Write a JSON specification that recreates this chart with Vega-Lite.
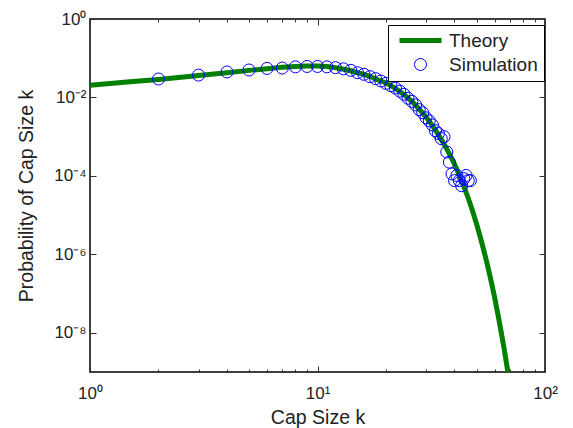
{
  "$schema": "https://vega.github.io/schema/vega-lite/v6.json",
  "width": 455,
  "height": 353,
  "autosize": "none",
  "padding": {"left": 90, "top": 19, "right": 28, "bottom": 56},
  "background": "white",
  "config": {
    "view": {"stroke": "black", "strokeWidth": 1.5},
    "font": "Liberation Sans",
    "axis": {
      "domain": false, "grid": false,
      "labelFont": "Liberation Sans", "labelFontSize": 17, "labelColor": "#222",
      "titleFont": "Liberation Sans", "titleFontSize": 19.5, "titleFontWeight": "normal", "titleColor": "#222",
      "tickColor": "#333", "tickWidth": 1
    }
  },
  "datasets": {
    "theory": [
      {"k": 1, "p": 0.02042, "series": "Theory"},
      {"k": 1.5, "p": 0.02512, "series": "Theory"},
      {"k": 2, "p": 0.02884, "series": "Theory"},
      {"k": 3, "p": 0.03631, "series": "Theory"},
      {"k": 4, "p": 0.04266, "series": "Theory"},
      {"k": 5, "p": 0.04898, "series": "Theory"},
      {"k": 6, "p": 0.05370, "series": "Theory"},
      {"k": 7, "p": 0.05888, "series": "Theory"},
      {"k": 8, "p": 0.06166, "series": "Theory"},
      {"k": 9, "p": 0.06310, "series": "Theory"},
      {"k": 10, "p": 0.06310, "series": "Theory"},
      {"k": 11, "p": 0.06166, "series": "Theory"},
      {"k": 12, "p": 0.05754, "series": "Theory"},
      {"k": 13, "p": 0.05248, "series": "Theory"},
      {"k": 14, "p": 0.04786, "series": "Theory"},
      {"k": 15, "p": 0.04266, "series": "Theory"},
      {"k": 16, "p": 0.03890, "series": "Theory"},
      {"k": 17, "p": 0.03467, "series": "Theory"},
      {"k": 18, "p": 0.02951, "series": "Theory"},
      {"k": 19, "p": 0.02630, "series": "Theory"},
      {"k": 20, "p": 0.02344, "series": "Theory"},
      {"k": 22, "p": 0.01698, "series": "Theory"},
      {"k": 24, "p": 0.01175, "series": "Theory"},
      {"k": 26, "p": 0.007943, "series": "Theory"},
      {"k": 28, "p": 0.005012, "series": "Theory"},
      {"k": 30, "p": 0.003162, "series": "Theory"},
      {"k": 32, "p": 0.001905, "series": "Theory"},
      {"k": 34, "p": 0.001122, "series": "Theory"},
      {"k": 36, "p": 0.0006457, "series": "Theory"},
      {"k": 38, "p": 0.0003631, "series": "Theory"},
      {"k": 40, "p": 0.0001995, "series": "Theory"},
      {"k": 42, "p": 0.0001047, "series": "Theory"},
      {"k": 44, "p": 0.0000537, "series": "Theory"},
      {"k": 46, "p": 0.00002692, "series": "Theory"},
      {"k": 48, "p": 0.00001288, "series": "Theory"},
      {"k": 50, "p": 0.000006026, "series": "Theory"},
      {"k": 52, "p": 0.000002692, "series": "Theory"},
      {"k": 54, "p": 0.000001175, "series": "Theory"},
      {"k": 56, "p": 5.012e-7, "series": "Theory"},
      {"k": 58, "p": 2.042e-7, "series": "Theory"},
      {"k": 60, "p": 8.128e-8, "series": "Theory"},
      {"k": 62, "p": 3.090e-8, "series": "Theory"},
      {"k": 64, "p": 1.148e-8, "series": "Theory"},
      {"k": 66, "p": 4.169e-9, "series": "Theory"},
      {"k": 68, "p": 1.445e-9, "series": "Theory"},
      {"k": 70, "p": 4.898e-10, "series": "Theory"}
    ],
    "sim": [
      {"k": 2, "p": 0.02951, "series": "Simulation"},
      {"k": 3, "p": 0.03715, "series": "Simulation"},
      {"k": 4, "p": 0.04467, "series": "Simulation"},
      {"k": 5, "p": 0.05012, "series": "Simulation"},
      {"k": 6, "p": 0.05495, "series": "Simulation"},
      {"k": 7, "p": 0.05623, "series": "Simulation"},
      {"k": 8, "p": 0.06026, "series": "Simulation"},
      {"k": 9, "p": 0.06166, "series": "Simulation"},
      {"k": 10, "p": 0.06166, "series": "Simulation"},
      {"k": 11, "p": 0.06026, "series": "Simulation"},
      {"k": 12, "p": 0.05754, "series": "Simulation"},
      {"k": 13, "p": 0.05370, "series": "Simulation"},
      {"k": 14, "p": 0.04898, "series": "Simulation"},
      {"k": 15, "p": 0.04266, "series": "Simulation"},
      {"k": 16, "p": 0.03890, "series": "Simulation"},
      {"k": 17, "p": 0.03388, "series": "Simulation"},
      {"k": 18, "p": 0.03020, "series": "Simulation"},
      {"k": 19, "p": 0.02630, "series": "Simulation"},
      {"k": 20, "p": 0.02291, "series": "Simulation"},
      {"k": 21, "p": 0.01995, "series": "Simulation"},
      {"k": 22, "p": 0.01738, "series": "Simulation"},
      {"k": 23, "p": 0.01445, "series": "Simulation"},
      {"k": 24, "p": 0.01202, "series": "Simulation"},
      {"k": 25, "p": 0.009550, "series": "Simulation"},
      {"k": 26, "p": 0.007943, "series": "Simulation"},
      {"k": 27, "p": 0.006457, "series": "Simulation"},
      {"k": 28, "p": 0.004898, "series": "Simulation"},
      {"k": 29, "p": 0.004074, "series": "Simulation"},
      {"k": 30, "p": 0.003020, "series": "Simulation"},
      {"k": 31, "p": 0.002512, "series": "Simulation"},
      {"k": 32, "p": 0.001995, "series": "Simulation"},
      {"k": 33, "p": 0.001413, "series": "Simulation"},
      {"k": 34, "p": 0.001202, "series": "Simulation"},
      {"k": 35, "p": 0.0008913, "series": "Simulation"},
      {"k": 36, "p": 0.0010000, "series": "Simulation"},
      {"k": 37, "p": 0.0004074, "series": "Simulation"},
      {"k": 38, "p": 0.0002239, "series": "Simulation"},
      {"k": 39, "p": 0.0001122, "series": "Simulation"},
      {"k": 40, "p": 0.00007586, "series": "Simulation"},
      {"k": 41, "p": 0.0001023, "series": "Simulation"},
      {"k": 42, "p": 0.00007586, "series": "Simulation"},
      {"k": 43, "p": 0.00005623, "series": "Simulation"},
      {"k": 44, "p": 0.00008511, "series": "Simulation"},
      {"k": 45, "p": 0.0001023, "series": "Simulation"},
      {"k": 46, "p": 0.00007586, "series": "Simulation"},
      {"k": 47, "p": 0.00007586, "series": "Simulation"}
    ]
  },
  "resolve": {"axis": {"x": "independent", "y": "independent"}},
  "layer": [
    {
      "data": {"name": "theory"},
      "mark": {"type": "line", "strokeWidth": 5, "clip": true},
      "encoding": {
        "x": {
          "field": "k", "type": "quantitative",
          "scale": {"type": "log", "domain": [1, 100], "nice": false},
          "axis": {
            "orient": "bottom",
            "values": [1, 2, 3, 4, 5, 6, 7, 8, 9, 10, 20, 30, 40, 50, 60, 70, 80, 90, 100],
            "labelExpr": "indexof([1,10,100], datum.value) >= 0 ? '10' + substring('⁰¹²', round(log(datum.value)/LN10), round(log(datum.value)/LN10) + 1) : ''",
            "tickSize": {"condition": {"test": "indexof([1,10,100], datum.value) >= 0", "value": -6}, "value": -3},
            "labelPadding": 19,
            "labelFlush": false,
            "labelOverlap": false,
            "title": "Cap Size k",
            "titlePadding": 4
          }
        },
        "y": {
          "field": "p", "type": "quantitative",
          "scale": {"type": "log", "domain": [1e-9, 1], "nice": false},
          "axis": {
            "orient": "left",
            "values": [1, 0.01, 0.0001, 0.000001, 0.00000001],
            "labelExpr": "'10' + (datum.value < 1 ? '⁻' : '') + substring('⁰¹²³⁴⁵⁶⁷⁸⁹', abs(round(log(datum.value)/LN10)), abs(round(log(datum.value)/LN10)) + 1)",
            "tickSize": -6,
            "labelPadding": 10,
            "labelFlush": false,
            "labelOverlap": false,
            "title": "Probability of Cap Size k",
            "titlePadding": 17
          }
        },
        "color": {
          "field": "series", "type": "nominal",
          "scale": {"domain": ["Theory", "Simulation"], "range": ["#008000", "#0000ff"]},
          "legend": {
            "orient": "none", "legendX": 298, "legendY": 6,
            "title": null,
            "strokeColor": "black", "fillColor": "white",
            "padding": 6,
            "labelFont": "Liberation Sans", "labelFontSize": 19, "labelColor": "#222",
            "labelOffset": 19,
            "symbolOffset": 17,
            "rowPadding": 4,
            "symbolStrokeWidth": 1,
            "symbolSize": 144,
            "encoding": {
              "symbols": {
                "shape": {"value": {"expr": "datum.value === 'Theory' ? 'M-3.5,0H3.5' : 'circle'"}},
                "strokeWidth": {"value": {"expr": "datum.value === 'Theory' ? 5 : 1"}}
              }
            }
          }
        }
      }
    },
    {
      "data": {"name": "sim"},
      "mark": {"type": "point", "filled": false, "size": 144, "strokeWidth": 1, "opacity": 1},
      "encoding": {
        "x": {
          "field": "k", "type": "quantitative",
          "scale": {"type": "log", "domain": [1, 100], "nice": false},
          "axis": {
            "orient": "top",
            "values": [1, 2, 3, 4, 5, 6, 7, 8, 9, 10, 20, 30, 40, 50, 60, 70, 80, 90, 100],
            "labels": false,
            "tickSize": {"condition": {"test": "indexof([1,10,100], datum.value) >= 0", "value": -6}, "value": -3},
            "title": null
          }
        },
        "y": {
          "field": "p", "type": "quantitative",
          "scale": {"type": "log", "domain": [1e-9, 1], "nice": false},
          "axis": {
            "orient": "right",
            "values": [1, 0.01, 0.0001, 0.000001, 0.00000001],
            "labels": false,
            "tickSize": -6,
            "title": null
          }
        },
        "color": {
          "field": "series", "type": "nominal",
          "scale": {"domain": ["Theory", "Simulation"], "range": ["#008000", "#0000ff"]}
        }
      }
    }
  ]
}
